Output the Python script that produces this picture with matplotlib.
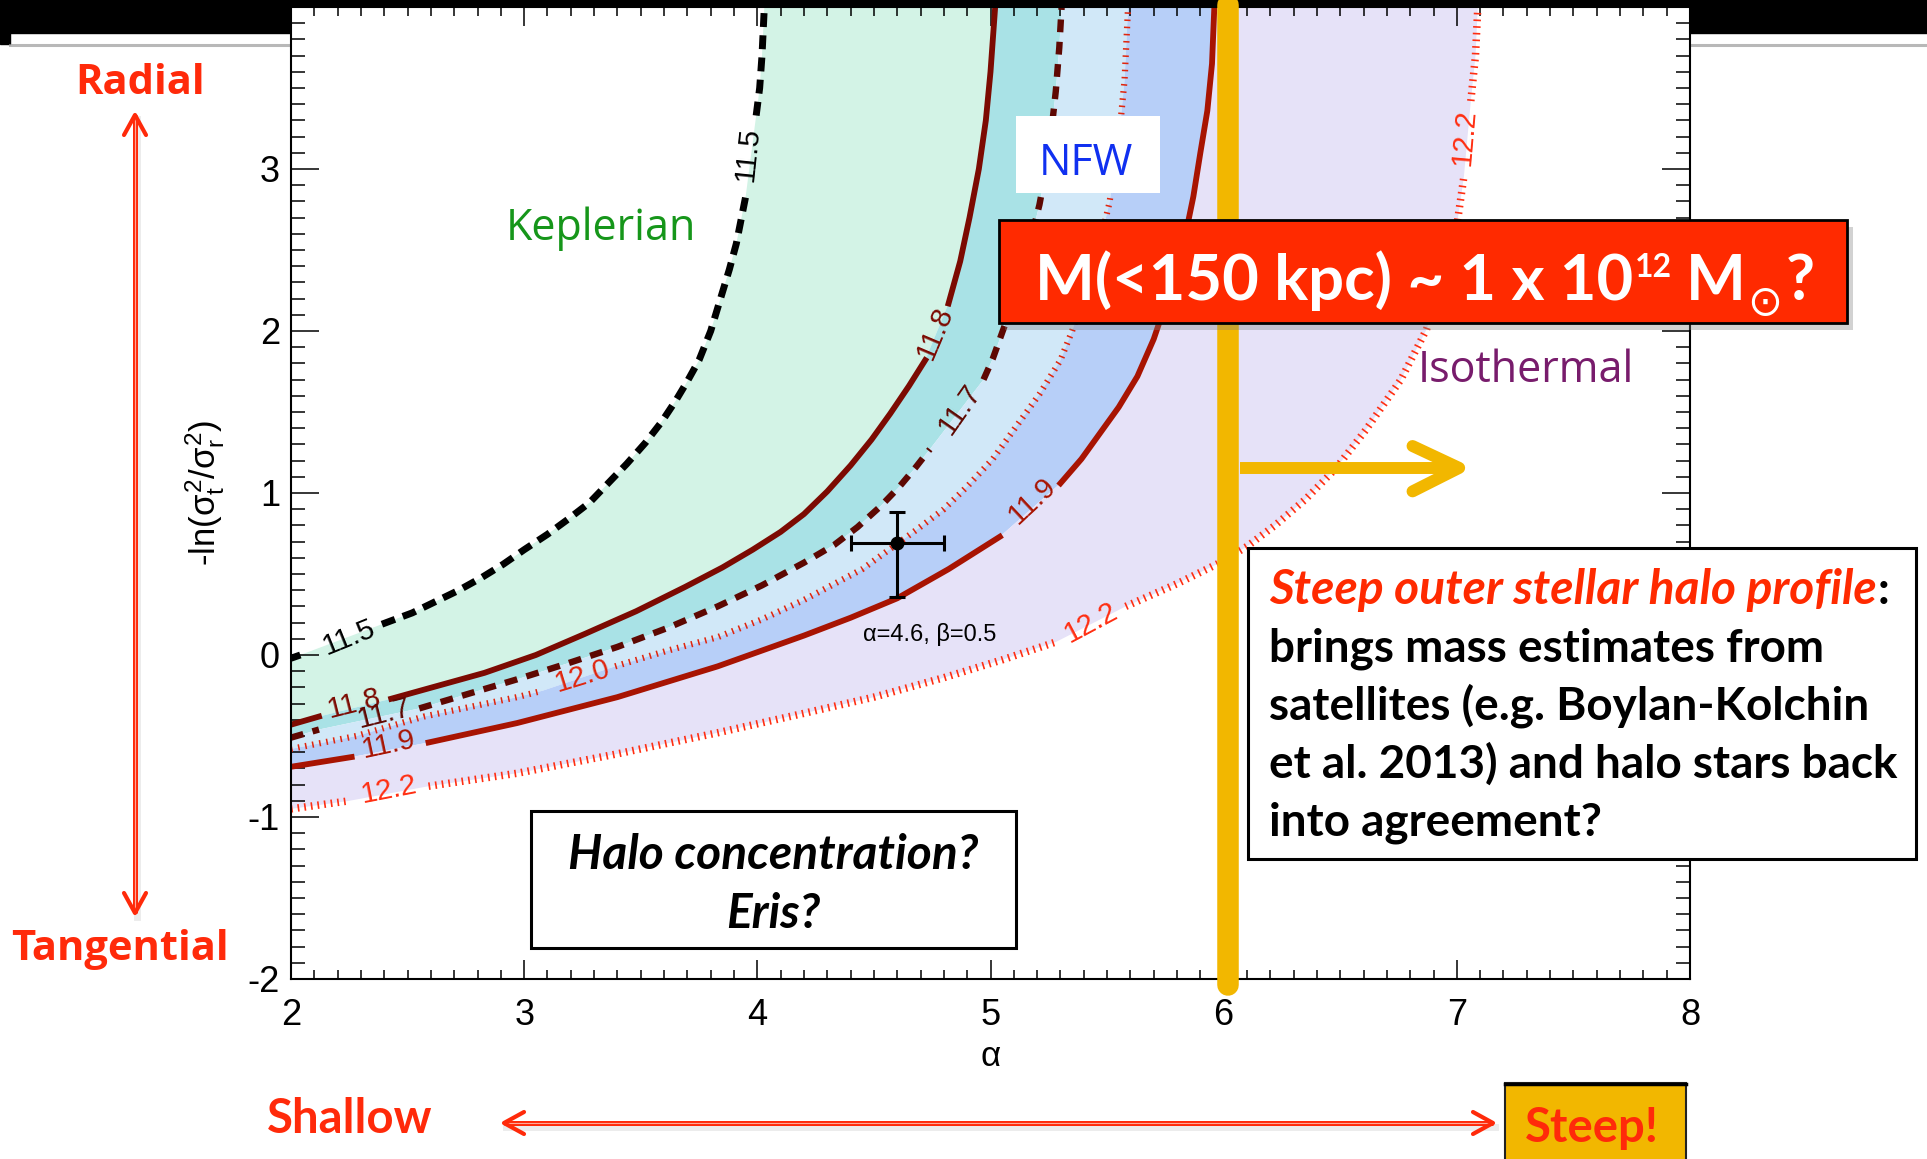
import numpy as np
import matplotlib.pyplot as plt
from matplotlib.patches import Rectangle
from matplotlib.ticker import MultipleLocator

plt.rcParams['axes.unicode_minus'] = False
plt.rcParams['font.family'] = 'Liberation Sans'
plt.rcParams['mathtext.fontset'] = 'custom'
plt.rcParams['mathtext.rm'] = 'Liberation Sans'
plt.rcParams['mathtext.it'] = 'Liberation Sans'

nan = np.nan

# log10 mass contours in the (alpha, -ln(sigma_t^2/sigma_r^2)) plane
# nan = break in the line where the contour label sits
c115_x = [2.00, 2.04, nan, 2.39, 2.52, 2.62, 2.72, 2.82, 2.91, 3.00, 3.10, 3.19, 3.28, 3.36, 3.44,
          3.52, 3.59, 3.65, 3.70, 3.75, 3.80, 3.84, 3.88, 3.91, 3.95, nan, 3.995, 4.01, 4.02, 4.03]
c115_y = [-0.02, 0.00, nan, 0.19, 0.26, 0.33, 0.40, 0.48, 0.56, 0.65, 0.745, 0.84, 0.94, 1.06, 1.18,
          1.31, 1.44, 1.57, 1.69, 1.82, 2.00, 2.19, 2.38, 2.54, 2.83, nan, 3.33, 3.50, 3.70, 4.00]

c118_x = [2.00, 2.12, nan, 2.43, 2.63, 2.83, 3.05, 3.26, 3.48, 3.69, 3.85, 3.98, 4.10, 4.20, 4.30,
          4.40, 4.49, 4.57, 4.65, 4.72, nan, 4.82, 4.87, 4.91, 4.95, 4.98, 5.00, 5.02]
c118_y = [-0.43, -0.38, nan, -0.27, -0.19, -0.11, 0.00, 0.13, 0.27, 0.42, 0.54, 0.65, 0.76, 0.87, 1.01,
          1.17, 1.33, 1.49, 1.66, 1.82, nan, 2.17, 2.43, 2.70, 3.00, 3.30, 3.60, 4.00]

c117_x = [2.00, 2.12, nan, 2.55, 2.76, 2.97, 3.19, 3.40, 3.62, 3.83, 4.02, 4.20, 4.33, 4.43, 4.53,
          4.61, 4.68, 4.74, nan, 4.97, 5.01, 5.05, 5.09, 5.13, 5.17, 5.21, 5.24, 5.26, 5.28, 5.295, 5.305]
c117_y = [-0.51, -0.46, nan, -0.33, -0.24, -0.15, -0.05, 0.05, 0.17, 0.30, 0.43, 0.57, 0.68, 0.79, 0.92,
          1.04, 1.16, 1.27, nan, 1.70, 1.83, 1.99, 2.15, 2.34, 2.55, 2.78, 3.01, 3.22, 3.48, 3.75, 4.00]

c120_x = [2.00, 2.28, 2.57, 2.97, 3.08, nan, 3.39, 3.61, 3.83, 4.02, 4.20, 4.45, 4.68, 4.80, 4.90,
          5.01, 5.11, 5.21, 5.30, 5.35, 5.38, 5.42, 5.47, 5.51, 5.53, 5.555, 5.575, 5.59]
c120_y = [-0.58, -0.50, -0.38, -0.26, -0.22, nan, -0.07, 0.025, 0.11, 0.22, 0.34, 0.53, 0.77, 0.90, 1.04,
          1.21, 1.41, 1.61, 1.82, 2.00, 2.13, 2.30, 2.55, 2.79, 2.98, 3.25, 3.55, 4.00]

c119_x = [2.00, 2.26, nan, 2.59, 2.97, 3.40, 3.83, 4.20, 4.40, 4.60, 4.82, 5.04, nan, 5.30, 5.39,
          5.47, 5.55, 5.63, 5.70, 5.78, 5.83, 5.87, 5.90, 5.93, 5.95, 5.96]
c119_y = [-0.69, -0.63, nan, -0.54, -0.42, -0.26, -0.07, 0.12, 0.23, 0.35, 0.53, 0.73, nan, 1.06, 1.21,
          1.37, 1.53, 1.72, 1.95, 2.29, 2.55, 2.83, 3.10, 3.36, 3.65, 4.00]

c122_x = [2.00, 2.25, nan, 2.59, 2.97, 3.40, 3.83, 4.20, 4.50, 4.80, 5.05, 5.28, nan, 5.58, 5.80,
          5.97, 6.10, 6.22, 6.35, 6.48, 6.61, 6.76, 6.87, 6.95, 7.00, 7.03, nan, 7.06, 7.08, 7.09]
c122_y = [-0.95, -0.90, nan, -0.81, -0.73, -0.61, -0.48, -0.36, -0.26, -0.14, -0.03, 0.08, nan, 0.30, 0.44,
          0.56, 0.67, 0.80, 0.96, 1.15, 1.39, 1.70, 2.01, 2.35, 2.65, 2.95, nan, 3.42, 3.70, 4.00]

# measured point
pt_alpha, pt_beta = 4.6, 0.69
pt_xerr = 0.2
pt_yerr_lo, pt_yerr_hi = 0.33, 0.19

x_ticks = [2, 3, 4, 5, 6, 7, 8]
y_ticks = [-2, -1, 0, 1, 2, 3]

col = {'11.5': 'black', '11.8': '#7C0A02', '11.7': '#5E0802',
       '12.0': '#E0260E', '11.9': '#A81402', '12.2': '#FF2E12'}

W, H = 1927, 1159
fig = plt.figure(figsize=(W / 100, H / 100), dpi=100)

# slide header strip behind the plot
bg = fig.add_axes([0, 0, 1, 1], zorder=0)
bg.set_xlim(0, W)
bg.set_ylim(H, 0)
bg.axis('off')
bg.add_patch(Rectangle((0, 0), W, 33, color='black'))
bg.add_patch(Rectangle((0, 0), 10, 44, color='black'))
bg.plot([10, W], [44.5, 44.5], color='#9a9a9a', lw=2.2, alpha=0.7)

ax = fig.add_axes([291 / W, 1 - 979 / H, 1399 / W, 972 / H], zorder=1)
ax.set_xlim(2, 8)
ax.set_ylim(-2, 4)


def finite(xs, ys):
    xs, ys = np.asarray(xs), np.asarray(ys)
    m = np.isfinite(xs)
    return xs[m], ys[m]


def band(ca, cb, color):
    xa, ya = finite(*ca)
    xb, yb = finite(*cb)
    ax.fill(np.concatenate([xa, xb[::-1]]), np.concatenate([ya, yb[::-1]]),
            color=color, lw=0, zorder=1)


band((c115_x, c115_y), (c118_x, c118_y), '#D3F3E6')
band((c118_x, c118_y), (c117_x, c117_y), '#A9E2E6')
band((c117_x, c117_y), (c120_x, c120_y), '#D1E8F8')
band((c120_x, c120_y), (c119_x, c119_y), '#B7CFF8')
band((c119_x, c119_y), (c122_x, c122_y), '#E6E2F8')

ax.plot(c115_x, c115_y, color=col['11.5'], lw=5.0, ls=(0, (2.0, 1.2)), zorder=2)
ax.plot(c118_x, c118_y, color=col['11.8'], lw=4.2, solid_joinstyle='round', zorder=2)
ax.plot(c117_x, c117_y, color=col['11.7'], lw=4.6, ls=(0, (2.0, 1.5)), zorder=2)
ax.plot(c120_x, c120_y, color=col['12.0'], lw=4.5, ls=(0, (0.25, 0.9)), zorder=2)
ax.plot(c119_x, c119_y, color=col['11.9'], lw=4.2, solid_joinstyle='round', zorder=2)
ax.plot(c122_x, c122_y, color=col['12.2'], lw=5.4, ls=(0, (0.22, 0.67)), zorder=2)

contour_labels = [
    ('11.5', 2.25, 0.11, 22), ('11.5', 3.96, 3.09, 84),
    ('11.8', 2.27, -0.30, 14), ('11.8', 4.76, 1.99, 67),
    ('11.7', 2.40, -0.36, 14), ('11.7', 4.87, 1.52, 55),
    ('12.0', 3.25, -0.13, 17),
    ('11.9', 2.42, -0.55, 12), ('11.9', 5.18, 0.95, 43),
    ('12.2', 2.42, -0.83, 11), ('12.2', 5.43, 0.20, 28), ('12.2', 7.03, 3.20, 85),
]
for lab, lx, ly, rot in contour_labels:
    ax.text(lx, ly, lab, color=col[lab], fontsize=21, rotation=rot,
            rotation_mode='anchor', ha='center', va='center', zorder=3)

ax.errorbar([pt_alpha], [pt_beta], xerr=pt_xerr, yerr=[[pt_yerr_lo], [pt_yerr_hi]],
            fmt='o', color='black', ms=9, lw=2.2, capsize=6, capthick=2.2, zorder=4)
ax.text(4.74, 0.086, 'α=4.6, β=0.5', fontsize=17, ha='center', va='baseline', zorder=4)

# alpha = 6 marker and arrow towards steeper profiles
yel = '#F2B700'
ax.plot([6.02, 6.02], [-2.04, 4.01], color=yel, lw=15.5, solid_capstyle='round',
        clip_on=False, zorder=5)
ax.plot([6.07, 7.00], [1.155, 1.155], color=yel, lw=8.6, solid_capstyle='butt', zorder=5)
ax.plot([6.81, 7.01, 6.81], [1.29, 1.155, 1.01], color=yel, lw=8.6,
        solid_capstyle='round', solid_joinstyle='round', zorder=5)

ax.set_xticks(x_ticks)
ax.set_yticks(y_ticks)
ax.xaxis.set_minor_locator(MultipleLocator(0.1))
ax.yaxis.set_minor_locator(MultipleLocator(0.1))
ax.tick_params(which='both', direction='in', top=True, right=True, width=1.1, labelsize=26)
ax.tick_params(axis='x', which='major', length=13.5, pad=14)
ax.tick_params(axis='x', which='minor', length=6.5)
ax.tick_params(axis='y', which='major', length=20, pad=8)
ax.tick_params(axis='y', which='minor', length=10)
for s in ax.spines.values():
    s.set_linewidth(1.5)
ax.set_xlabel('α', fontsize=25)
ax.xaxis.set_label_coords(0.5, -0.063)
ax.set_ylabel(r'-ln($\sigma_t^2/\sigma_r^2$)', fontsize=25)
ax.yaxis.set_label_coords(-0.046, 0.5)

# slide annotations, in pixel coordinates
ov = fig.add_axes([0, 0, 1, 1], zorder=2)
ov.set_xlim(0, W)
ov.set_ylim(H, 0)
ov.axis('off')

red = '#FF2A0A'
rend = fig.canvas.get_renderer()


def put_runs(x, y, runs, center=False):
    placed = []
    for s, kw, dy, gap in runs:
        t = ov.text(0, y + dy, s, va='baseline', ha='left', **kw)
        placed.append((t, t.get_window_extent(rend).width, gap))
    total = sum(w + g for _, w, g in placed)
    cur = x - total / 2 if center else x
    for t, w, g in placed:
        cur += g
        t.set_x(cur)
        cur += w


def slide_arrow(x0, y0, x1, y1):
    ov.plot([x0 + 2, x1 + 2], [y0 + 4, y1 + 4], color='gray', lw=5, alpha=0.15)
    ov.plot([x0, x1], [y0, y1], color=red, lw=3.6, solid_capstyle='butt')
    ov.plot([x0, x1], [y0, y1], color='#FFA898', lw=0.8)
    u = np.array([x1 - x0, y1 - y0], float)
    u /= np.hypot(*u)
    p = np.array([-u[1], u[0]])
    for tip, d in (((x0, y0), u), ((x1, y1), -u)):
        tip = np.array(tip, float)
        a = tip + d * 20 + p * 11
        b = tip + d * 20 - p * 11
        ov.plot([a[0], tip[0], b[0]], [a[1], tip[1], b[1]], color=red, lw=3,
                solid_capstyle='round', solid_joinstyle='round')


ov.text(140, 94, 'Radial', color=red, fontsize=30, fontweight='bold',
        family='Open Sans', ha='center', va='baseline')
ov.text(120, 960, 'Tangential', color=red, fontsize=30, fontweight='bold',
        family='Open Sans', ha='center', va='baseline')
slide_arrow(135, 115, 135, 913)

ov.text(350, 1133, 'Shallow', color=red, fontsize=34, fontweight='bold',
        family='Lato', ha='center', va='baseline')
slide_arrow(504, 1123, 1493, 1123)
ov.add_patch(Rectangle((1505, 1083), 181, 90, facecolor=yel, edgecolor='#222222', lw=1.5))
ov.plot([1505, 1686], [1084, 1084], color='black', lw=2.5)
ov.text(1592, 1142, 'Steep!', color=red, fontsize=34, fontweight='bold',
        family='Lato', ha='center', va='baseline')

ov.text(601, 240, 'Keplerian', color='#16961A', fontsize=31, family='Open Sans',
        ha='center', va='baseline')
ov.add_patch(Rectangle((1016, 116), 144, 77, facecolor='white', edgecolor='none'))
ov.text(1086, 175, 'NFW', color='#1030F0', fontsize=31, family='Open Sans',
        ha='center', va='baseline')
ov.text(1526, 382, 'Isothermal', color='#781C6C', fontsize=31, family='Open Sans',
        ha='center', va='baseline')

# mass headline
ov.add_patch(Rectangle((1005, 227), 848, 103, facecolor='gray', edgecolor='none', alpha=0.35))
ov.add_patch(Rectangle((999, 220), 848, 103, facecolor='#FF2A00', edgecolor='black', lw=2))
big = dict(fontsize=45.5, fontweight='bold', color='white', family='Lato')
put_runs(1425, 300, [
    ('M(<150 kpc) ~ 1 x 10', big, 0, 0),
    ('12', dict(big, fontsize=23), -23, 2),
    ('M', big, 0, 14),
    ('⊙', dict(big, fontsize=30, fontweight='normal', family=['DejaVu Sans']), 15, 1),
    ('?', big, 0, 4),
], center=True)

# open questions
ov.add_patch(Rectangle((531, 811), 485, 137, facecolor='white', edgecolor='black', lw=2.2))
qkw = dict(fontsize=34.5, fontweight='bold', fontstyle='italic', family='Lato',
           ha='center', va='baseline')
ov.text(773, 869, 'Halo concentration?', **qkw)
ov.text(773, 928, 'Eris?', **qkw)

ov.add_patch(Rectangle((1248, 548), 668, 311, facecolor='white', edgecolor='black', lw=2.2))
bkw = dict(fontsize=33, fontweight='bold', family='Lato', color='black')
put_runs(1269, 604, [
    ('Steep outer stellar halo profile', dict(bkw, fontsize=34.5, color='#FF2A00',
                                              fontstyle='italic'), 0, 0),
    (':', bkw, 0, 1),
])
body = ['brings mass estimates from', 'satellites (e.g. Boylan-Kolchin',
        'et al. 2013) and halo stars back', 'into agreement?']
for i, line in enumerate(body):
    ov.text(1269, 662 + 58 * i, line, va='baseline', ha='left', **bkw)

fig.savefig('out.png', dpi=100)
